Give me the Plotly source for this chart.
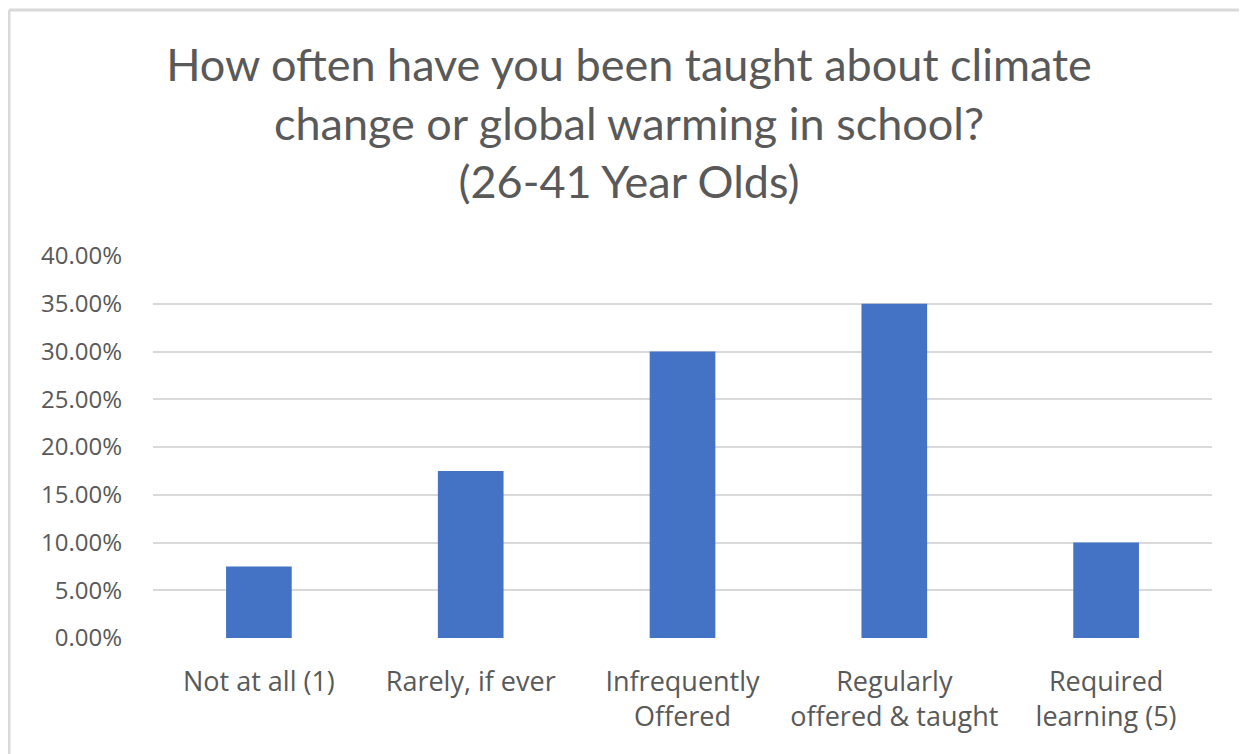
import plotly.graph_objects as go

categories = ["Not at all (1)", "Rarely, if ever", "Infrequently<br>Offered",
              "Regularly<br>offered & taught", "Required<br>learning (5)"]
values = [0.075, 0.175, 0.30, 0.35, 0.10]
tick_vals = [0, 0.05, 0.10, 0.15, 0.20, 0.25, 0.30, 0.35, 0.40]
tick_text = ["0.00%", "5.00%", "10.00%", "15.00%", "20.00%", "25.00%", "30.00%", "35.00%", "40.00%"]
title_text = "How often have you been taught about climate<br>change or global warming in school?<br>(26-41 Year Olds)"

# page body adds an 8px offset; layout numbers below are in figure pixels
W, H = 1247, 754
L, T = 145, 248
pw, ph = 1059, 382
R, B = W - L - pw, H - T - ph

def px_x(px):
    return (px - L) / pw

def px_y(py):
    return (H - B - py) / ph

fig = go.Figure(go.Bar(x=categories, y=values, marker=dict(color="#4472C4", line=dict(width=0)),
                       width=0.31))

border = "#D9D9D9"
fig.update_layout(
    width=W, height=H,
    margin=dict(l=L, r=R, t=T, b=B),
    paper_bgcolor="white", plot_bgcolor="white",
    font=dict(family="Open Sans", color="#595959"),
    showlegend=False,
    title=dict(text=title_text, x=621 / W, xanchor="center", y=1 - 73 / H, yanchor="middle",
               font=dict(size=45, color="#595959", family="Lato")),
    xaxis=dict(showgrid=False, showline=False, ticks="", tickfont=dict(size=27, color="#595959"),
               ticklabelstandoff=25),
    yaxis=dict(range=[0, 0.40], tickvals=tick_vals, ticktext=tick_text, showgrid=True,
               gridcolor=border, gridwidth=2, zeroline=False, showline=False, ticks="",
               tickfont=dict(size=24, color="#595959"), ticklabelstandoff=30),
    shapes=[
        dict(type="line", xref="paper", yref="paper", x0=px_x(1), x1=px_x(W + 5),
             y0=px_y(2), y1=px_y(2), line=dict(color=border, width=3)),
        dict(type="line", xref="paper", yref="paper", x0=px_x(1), x1=px_x(1),
             y0=px_y(2), y1=px_y(H + 5), line=dict(color=border, width=3)),
    ],
)

fig.write_html("out.html")
